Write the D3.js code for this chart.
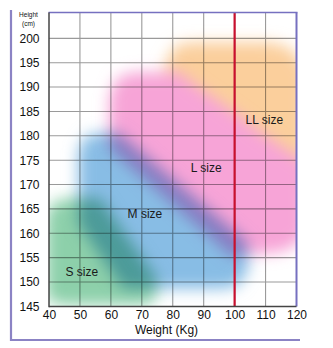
<!DOCTYPE html>
<html><head><meta charset="utf-8">
<script src="https://cdn.jsdelivr.net/npm/d3@7"></script>
<style>
html,body{margin:0;padding:0;background:#fff;}
svg{display:block;font-family:"Liberation Sans",Arial,sans-serif;}
</style></head>
<body>
<svg id="chart" width="333" height="348"></svg>
<script>
// ---- data ----
const xTicks = [40, 50, 60, 70, 80, 90, 100, 110, 120];
const yTicks = [145, 150, 155, 160, 165, 170, 175, 180, 185, 190, 195, 200];
const limitWeight = 100;
// size zones as [weight, height] outlines
const sizeLL = [[77.5,184],[77.5,195],[81,198.6],[86,199.2],[112,199.2],[118,198],[123,194],[123,166],[104,176]];
const sizeL  = [[59.5,177.5],[59.5,188],[62,191.8],[67,193],[82,193],[88,190],[99.5,185],[110,180],[123,174.5],[123,159.5],[117,156.5],[110,155.8],[103,155.8],[99.5,155.2]];
const sizeM  = [[49.5,162],[49.5,177],[52,180],[57,180.6],[62.5,180.6],[104,158.2],[104.5,152.5],[101,149.2],[96,148.6],[64,148.6]];
const sizeS  = [[39,146.5],[39,163.5],[41.5,166.4],[46,167.2],[56.5,167.2],[74.8,150.8],[74.8,147],[71.5,145.3],[44,145.3]];
const zoneNames  = ["LL size", "L size", "M size", "S size"];
const zoneColors = ["#fbcf9c", "#f7a4d7", "#88bde5", "#8dd0aa"];
const zoneBlend  = ["normal", "normal", "multiply", "multiply"];
const labelPos   = [[109.6,183.3],[90.8,173.4],[71,164],[50.6,152]];

// ---- layout ----
const svg = d3.select("#chart");
const x = d3.scaleLinear().domain([40, 120]).range([49, 296.5]);
const y = d3.scaleLinear().domain([145, 205.3]).range([306.4, 12.5]);

const defs = svg.append("defs");
defs.append("filter").attr("id","blur")
  .attr("x","-30%").attr("y","-30%").attr("width","160%").attr("height","160%")
  .append("feGaussianBlur").attr("stdDeviation", 7.5);
defs.append("clipPath").attr("id","plotclip")
  .append("rect").attr("x", x(40)).attr("y", y(205.3))
  .attr("width", x(120)-x(40)).attr("height", y(145)-y(205.3));

const plot = svg.append("g").attr("clip-path","url(#plotclip)");
plot.append("rect").attr("x", x(40)).attr("y", y(205.3))
  .attr("width", x(120)-x(40)).attr("height", y(145)-y(205.3)).attr("fill","#fff");

// zones
const line = d3.line().x(d=>x(d[0])).y(d=>y(d[1])).curve(d3.curveLinearClosed);
const zones = [sizeLL, sizeL, sizeM, sizeS];
plot.append("g").selectAll("path").data(zones).join("path")
  .attr("d", d=>line(d))
  .attr("fill", (d,i)=>zoneColors[i])
  .attr("filter","url(#blur)")
  .style("mix-blend-mode", (d,i)=>zoneBlend[i]);

// grid (multiplied over the zones)
const grid = plot.append("g").style("mix-blend-mode","multiply");
grid.selectAll("line.v").data(xTicks.slice(1,-1)).join("line").attr("class","v")
  .attr("x1", d=>x(d)).attr("x2", d=>x(d)).attr("y1", y(205.3)).attr("y2", y(145))
  .attr("stroke","#9a9a9a").attr("stroke-width",1.1);
grid.selectAll("line.h").data(yTicks.slice(1)).join("line").attr("class","h")
  .attr("x1", x(40)).attr("x2", x(120)).attr("y1", d=>y(d)).attr("y2", d=>y(d))
  .attr("stroke","#9a9a9a").attr("stroke-width",1.1);

// red limit line
plot.append("line").attr("x1", x(limitWeight)).attr("x2", x(limitWeight))
  .attr("y1", y(205.3)).attr("y2", y(145))
  .attr("stroke","#c8102e").attr("stroke-width",2.2);

// plot borders
svg.append("line").attr("x1", x(40)-0.5).attr("x2", x(120)+1).attr("y1", y(205.3)).attr("y2", y(205.3))
  .attr("stroke","#7670c0").attr("stroke-width",1.6);
svg.append("line").attr("x1", x(120)).attr("x2", x(120)).attr("y1", y(205.3)).attr("y2", y(145))
  .attr("stroke","#7670c0").attr("stroke-width",2);
svg.append("line").attr("x1", x(40)).attr("x2", x(40)).attr("y1", y(205.3)).attr("y2", y(145)+0.8)
  .attr("stroke","#444").attr("stroke-width",1.5);
svg.append("line").attr("x1", x(40)).attr("x2", x(120)).attr("y1", y(145)).attr("y2", y(145))
  .attr("stroke","#444").attr("stroke-width",1.5);

// outer frame
svg.append("line").attr("x1", 11).attr("x2", 11).attr("y1", 10).attr("y2", 341)
  .attr("stroke","#8b83c4").attr("stroke-width",2.2);
svg.append("line").attr("x1", 10).attr("x2", 300).attr("y1", 340).attr("y2", 340)
  .attr("stroke","#8b83c4").attr("stroke-width",2.2);

// axes labels
const xAxis = d3.axisBottom(x).tickValues(xTicks).tickSize(0).tickPadding(4.3);
const gx = svg.append("g").attr("transform", `translate(0,${y(145)})`).call(xAxis);
gx.select(".domain").remove();
gx.selectAll("text").attr("font-size", 12).attr("fill","#111").attr("font-family","Liberation Sans, Arial, sans-serif");

const yAxis = d3.axisLeft(y).tickValues(yTicks).tickSize(0).tickPadding(9.5);
const gy = svg.append("g").attr("transform", `translate(${x(40)},0)`).call(yAxis);
gy.select(".domain").remove();
gy.selectAll("text").attr("font-size", 12).attr("fill","#111").attr("font-family","Liberation Sans, Arial, sans-serif");

svg.append("text").attr("x", 166.5).attr("y", 334).attr("text-anchor","middle")
  .attr("font-size", 12).attr("fill","#111").text("Weight (Kg)");
svg.append("text").attr("x", 28.5).attr("y", 17).attr("text-anchor","middle")
  .attr("font-size", 6.5).attr("fill","#111").text("Height");
svg.append("text").attr("x", 28.5).attr("y", 25.5).attr("text-anchor","middle")
  .attr("font-size", 6.5).attr("fill","#111").text("(cm)");

// zone labels
svg.append("g").selectAll("text").data(zoneNames).join("text")
  .attr("x", (d,i)=>x(labelPos[i][0])).attr("y", (d,i)=>y(labelPos[i][1]))
  .attr("dy","0.35em").attr("text-anchor","middle")
  .attr("font-size", 12).attr("fill","#1a1a1a").text(d=>d);
</script>
</body></html>
